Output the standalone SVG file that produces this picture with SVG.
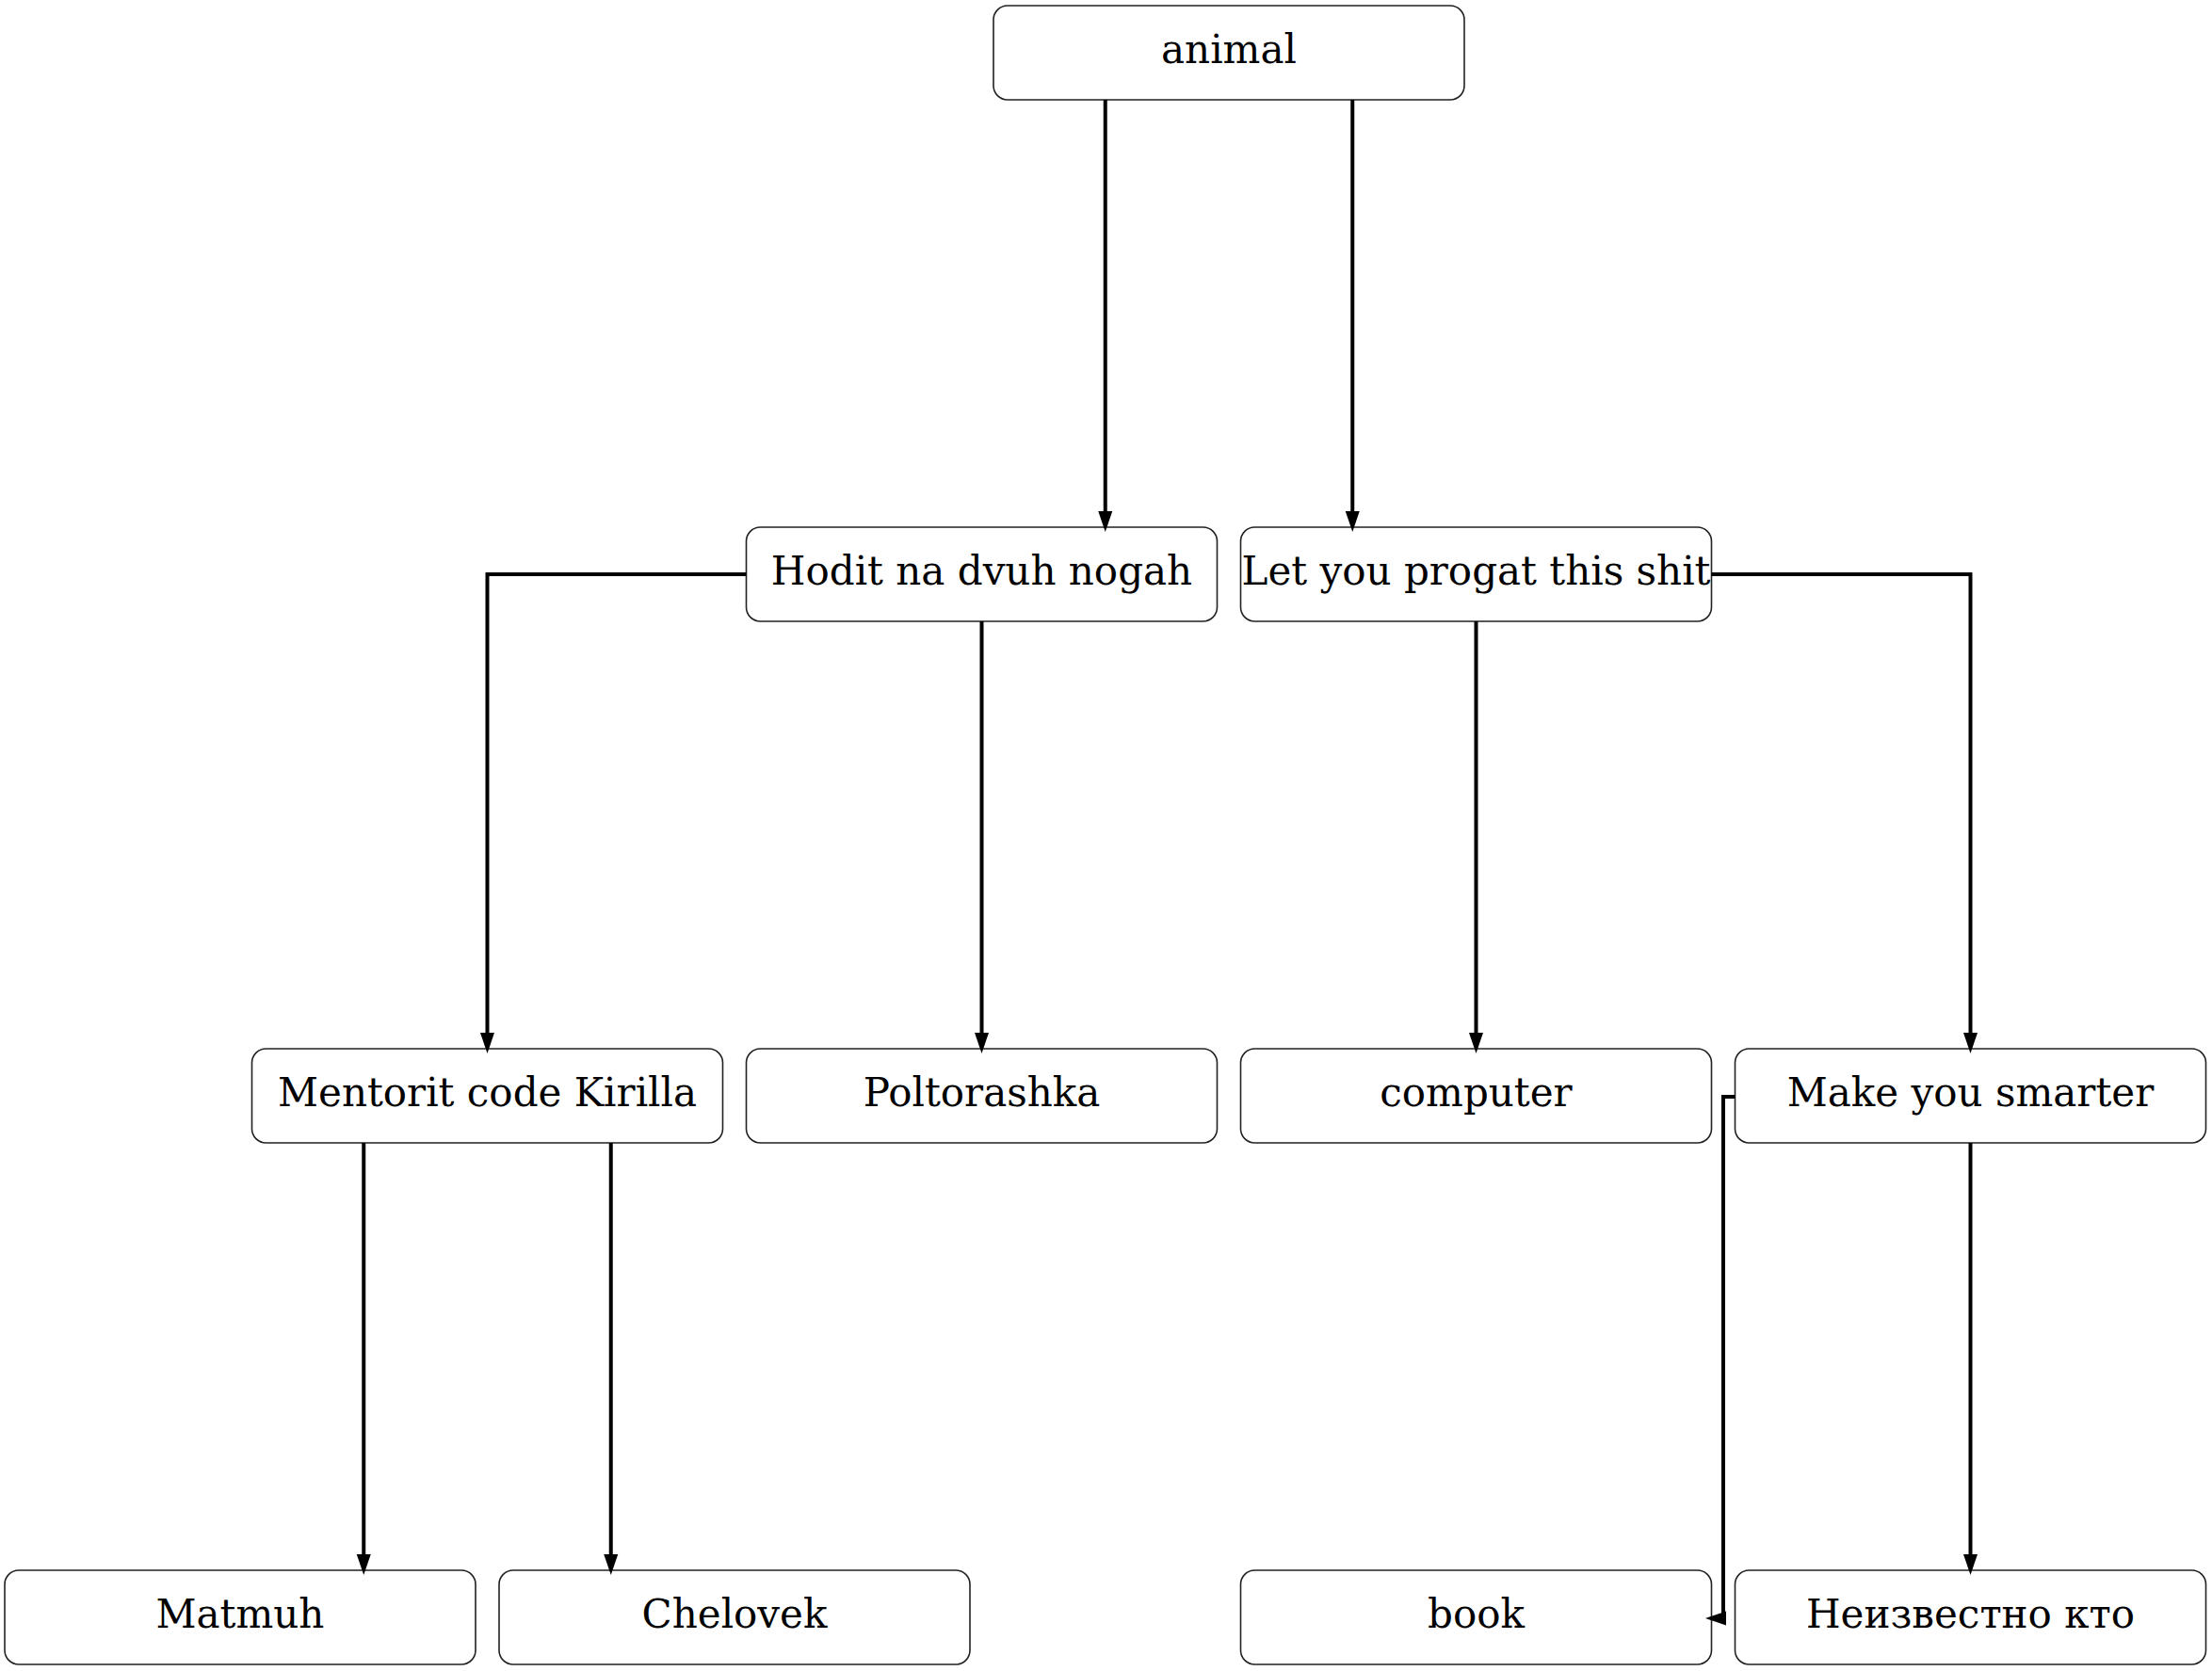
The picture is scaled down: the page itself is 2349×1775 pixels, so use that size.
<svg xmlns="http://www.w3.org/2000/svg" width="2349" height="1775" viewBox="0 0 2349 1775">
<style>
.box{fill:#fff;stroke:#222;stroke-width:1.6}
.lbl{font-family:"DejaVu Serif","Liberation Serif",serif;font-size:42px;fill:#000;text-anchor:middle}
.c{fill:none;stroke:#000;stroke-width:4}
</style>
<defs>
<marker id="ah" markerUnits="userSpaceOnUse" markerWidth="22" markerHeight="15" refX="0" refY="7.5" orient="auto" overflow="visible">
<path d="M0,0 L22,7.5 L0,15 z" fill="#000"/>
</marker>
</defs>
<rect width="2349" height="1775" fill="#fff"/>
<g id="animal"><rect class="box" x="1055" y="6" width="500" height="100" rx="15"/><text class="lbl" x="1305" y="67">animal</text></g>
<g id="hodit"><rect class="box" x="792.5" y="560" width="500" height="100" rx="15"/><text class="lbl" x="1042.5" y="621">Hodit na dvuh nogah</text></g>
<g id="letyou"><rect class="box" x="1317.5" y="560" width="500" height="100" rx="15"/><text class="lbl" x="1567.5" y="621">Let you progat this shit</text></g>
<g id="mentorit"><rect class="box" x="267.5" y="1114" width="500" height="100" rx="15"/><text class="lbl" x="517.5" y="1175">Mentorit code Kirilla</text></g>
<g id="poltorashka"><rect class="box" x="792.5" y="1114" width="500" height="100" rx="15"/><text class="lbl" x="1042.5" y="1175">Poltorashka</text></g>
<g id="computer"><rect class="box" x="1317.5" y="1114" width="500" height="100" rx="15"/><text class="lbl" x="1567.5" y="1175">computer</text></g>
<g id="smarter"><rect class="box" x="1842.5" y="1114" width="500" height="100" rx="15"/><text class="lbl" x="2092.5" y="1175">Make you smarter</text></g>
<g id="matmuh"><rect class="box" x="5" y="1668" width="500" height="100" rx="15"/><text class="lbl" x="255" y="1729">Matmuh</text></g>
<g id="chelovek"><rect class="box" x="530" y="1668" width="500" height="100" rx="15"/><text class="lbl" x="780" y="1729">Chelovek</text></g>
<g id="book"><rect class="box" x="1317.5" y="1668" width="500" height="100" rx="15"/><text class="lbl" x="1567.5" y="1729">book</text></g>
<g id="unknown"><rect class="box" x="1842.5" y="1668" width="500" height="100" rx="15"/><text class="lbl" x="2092.5" y="1729">Неизвестно кто</text></g>
<g id="connectors">
<path class="c" d="M1173.75,106 V543" marker-end="url(#ah)"/>
<path class="c" d="M1436.25,106 V543" marker-end="url(#ah)"/>
<path class="c" d="M792.5,610 H517.5 V1097" marker-end="url(#ah)"/>
<path class="c" d="M1042.5,660 V1097" marker-end="url(#ah)"/>
<path class="c" d="M1567.5,660 V1097" marker-end="url(#ah)"/>
<path class="c" d="M1817.5,610 H2092.5 V1097" marker-end="url(#ah)"/>
<path class="c" d="M386.25,1214 V1651" marker-end="url(#ah)"/>
<path class="c" d="M648.75,1214 V1651" marker-end="url(#ah)"/>
<path class="c" d="M2092.5,1214 V1651" marker-end="url(#ah)"/>
<path class="c" d="M1842.5,1165 H1830 V1719"/>
<polygon points="1811,1719 1833,1711.5 1833,1726.5" fill="#000"/>
</g>
</svg>
